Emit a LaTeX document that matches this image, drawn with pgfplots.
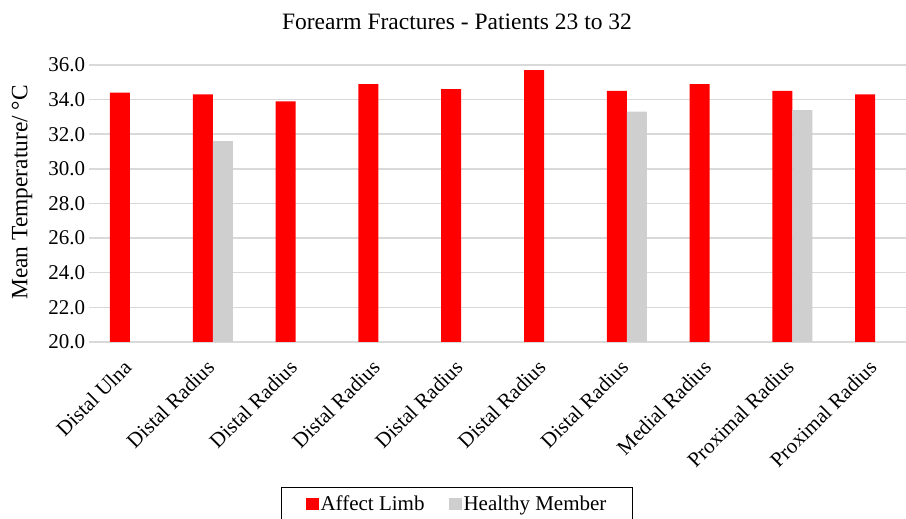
\documentclass[border=0pt]{standalone}
\usepackage{fontspec}
\setmainfont{Liberation Serif}
\usepackage{pgfplots}
\pgfplotsset{compat=1.18}
\definecolor{affred}{HTML}{FF0000}
\definecolor{healthgray}{HTML}{D0CFD0}
\definecolor{gridgray}{HTML}{D9D9D9}
\begin{document}
\begin{tikzpicture}
\begin{axis}[
  name=ax,
  scale only axis,
  width=828pt, height=277pt,
  xmin=-0.5, xmax=9.5,
  ymin=20, ymax=36,
  ytick={20,22,...,36},
  xtick={0,...,9},
  xticklabels={Distal Ulna,Distal Radius,Distal Radius,Distal Radius,Distal Radius,Distal Radius,Distal Radius,Medial Radius,Proximal Radius,Proximal Radius},
  major tick length=0pt,
  axis line style={draw=none},
  ymajorgrids,
  grid style={gridgray, line width=1.5pt},
  ybar=0pt,
  bar width=20pt,
  /pgf/number format/assume math mode=true,
  yticklabel style={/pgf/number format/fixed, /pgf/number format/fixed zerofill, /pgf/number format/precision=1, font=\fontsize{21}{24}\selectfont},
  xticklabel style={xshift=-7.5pt, yshift=-15pt, rotate=45, anchor=north east, font=\fontsize{21}{24}\selectfont, inner sep=1pt},
  ylabel={Mean Temperature/ °C},
  ylabel style={at={(axis description cs:-0.0804,0.54)}, anchor=center, font=\fontsize{23.4}{27}\selectfont},
  title={Forearm Fractures - Patients 23 to 32},
  title style={at={(axis description cs:0.4449,1)}, anchor=base, yshift=29.5pt, font=\fontsize{23.5}{27}\selectfont},
  legend columns=2,
  legend style={at={(axis description cs:0.4449,-0.5235)}, anchor=north, draw=black, line width=1pt, font=\fontsize{21}{24}\selectfont, inner xsep=24pt, inner ysep=6pt, /tikz/every even column/.append style={column sep=22pt}},
  legend image code/.code={\fill[#1] (0pt,-6pt) rectangle (13pt,6pt);},
]
\addplot[fill=affred, draw=none] coordinates {(0,34.4) (1,34.3) (2,33.9) (3,34.9) (4,34.6) (5,35.7) (6,34.5) (7,34.9) (8,34.5) (9,34.3)};
\addlegendentry{Affect Limb}
\addplot[fill=healthgray, draw=none] coordinates {(1,31.6) (6,33.3) (8,33.4)};
\addlegendentry{Healthy Member}
\end{axis}
\pgfresetboundingbox
\path[use as bounding box] ([shift={(-88.6pt,-177pt)}]ax.south west) rectangle ([shift={(-10.6pt,65pt)}]ax.north east);
\end{tikzpicture}
\end{document}
